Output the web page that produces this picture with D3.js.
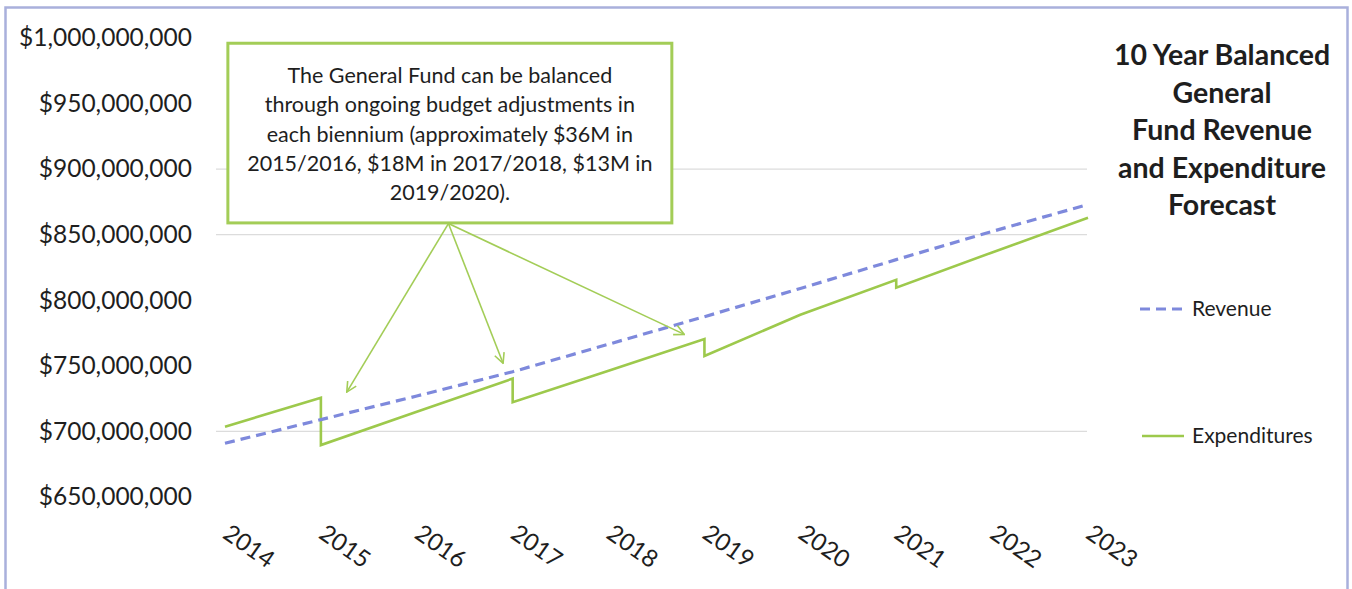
<!DOCTYPE html>
<html>
<head>
<meta charset="utf-8">
<script src="https://cdn.jsdelivr.net/npm/d3@7"></script>
<style>
  html, body { margin: 0; padding: 0; background: #fff; }
  svg { display: block; }
  text { font-family: Lato, "Open Sans", "DejaVu Sans", sans-serif; fill: #1e1e1e; }
</style>
</head>
<body>
<svg id="chart" width="1352" height="589"></svg>
<script>
// ---- data (values in $ millions) ----
const years = [2014, 2015, 2016, 2017, 2018, 2019, 2020, 2021, 2022, 2023];
const revenue = [691, 709, 727, 745.5, 766.5, 787.5, 809, 831, 852.5, 873];
// expenditures after each biennial budget adjustment
const expenditures = [703.6, 689.6, 715, 722.3, 746.3, 757.5, 789, 809.6, 836.5, 863];
const adjustmentYears = [2015, 2017, 2019, 2021];
const adjustments = [36, 18, 13, 6];
const yTicks = [650, 700, 750, 800, 850, 900, 950, 1000];
const gridValues = [700, 850, 900];
const seriesNames = ["Revenue", "Expenditures"];
const titleLines = ["10 Year Balanced", "General", "Fund Revenue", "and Expenditure", "Forecast"];
const noteLines = [
  "The General Fund can be balanced",
  "through ongoing budget adjustments in",
  "each biennium (approximately $36M in",
  "2015/2016, $18M in 2017/2018, $13M in",
  "2019/2020)."
];
// note box corners and arrow origin/targets, in (year, $M)
const noteBox = [[2014.03, 996], [2018.66, 859]];
const arrowFrom = [2016.33, 858.5];
const arrowTargets = [[2015.27, 730], [2016.9, 752], [2018.79, 774]];

// ---- styling ----
const revColor = "#7e89dc";
const expColor = "#9dc94c";
const noteColor = "#a3cd57";

const svg = d3.select("#chart");

// outer frame
svg.append("rect")
  .attr("x", 5.5).attr("y", 7.5).attr("width", 1342).attr("height", 620)
  .attr("fill", "#fff").attr("stroke", "#a9b0dc").attr("stroke-width", 2.5);

const x = d3.scaleLinear().domain([2014, 2023]).range([225, 1088]);
const y = d3.scaleLinear().domain([650, 1000]).range([497, 38]);

// gridlines
svg.append("g").selectAll("line").data(gridValues).join("line")
  .attr("x1", 216).attr("x2", 1087)
  .attr("y1", d => y(d)).attr("y2", d => y(d))
  .attr("stroke", "#dcdcdc").attr("stroke-width", 1.2);

// y axis (labels only)
const yAxis = d3.axisLeft(y).tickValues(yTicks).tickSize(0).tickPadding(0)
  .tickFormat(d => d3.format("$,")(d * 1e6));
const gy = svg.append("g").attr("transform", "translate(192,0)").call(yAxis);
gy.select(".domain").remove();
gy.selectAll("text")
  .attr("font-size", 24.5).attr("fill", "#1e1e1e")
  .style("font-family", "Lato, 'Open Sans', sans-serif");

// x axis labels (rotated)
const xAxis = d3.axisBottom(x).tickValues(years).tickSize(0).tickFormat(d3.format("d"));
const gx = svg.append("g").call(xAxis);
gx.select(".domain").remove();
gx.selectAll(".tick text")
  .attr("y", 0).attr("dy", 0)
  .attr("text-anchor", "start")
  .attr("transform", "translate(-4,537) rotate(35)")
  .attr("font-size", 24).attr("fill", "#1e1e1e")
  .style("font-family", "Lato, 'Open Sans', sans-serif");

// series
const line = d3.line().x(d => x(d[0])).y(d => y(d[1]));

const revPts = years.map((yr, i) => [yr, revenue[i]]);
const expPts = [];
years.forEach((yr, i) => {
  const k = adjustmentYears.indexOf(yr);
  if (k >= 0) expPts.push([yr, expenditures[i] + adjustments[k]]);
  expPts.push([yr, expenditures[i]]);
});

svg.append("path").datum(expPts)
  .attr("d", line).attr("fill", "none")
  .attr("stroke", expColor).attr("stroke-width", 2.6)
  .attr("stroke-linejoin", "miter");

svg.append("path").datum(revPts)
  .attr("d", line).attr("fill", "none")
  .attr("stroke", revColor).attr("stroke-width", 3.2)
  .attr("stroke-dasharray", "10,6");

// note box
const bx0 = x(noteBox[0][0]), by0 = y(noteBox[0][1]);
const bx1 = x(noteBox[1][0]), by1 = y(noteBox[1][1]);
svg.append("rect")
  .attr("x", bx0).attr("y", by0).attr("width", bx1 - bx0).attr("height", by1 - by0)
  .attr("fill", "#fff").attr("stroke", noteColor).attr("stroke-width", 3);

svg.append("g").selectAll("text").data(noteLines).join("text")
  .attr("x", (bx0 + bx1) / 2)
  .attr("y", (d, i) => by0 + 40 + i * 29.2)
  .attr("text-anchor", "middle")
  .attr("font-size", 21.5)
  .text(d => d);

// arrows
const defs = svg.append("defs");
defs.append("marker")
  .attr("id", "arrowHead").attr("viewBox", "0 0 12 12")
  .attr("refX", 11).attr("refY", 6)
  .attr("markerWidth", 12).attr("markerHeight", 12)
  .attr("markerUnits", "userSpaceOnUse")
  .attr("orient", "auto")
  .append("path").attr("d", "M1,1 L11,6 L1,11")
  .attr("fill", "none").attr("stroke", noteColor).attr("stroke-width", 1.6);

svg.append("g").selectAll("line").data(arrowTargets).join("line")
  .attr("x1", x(arrowFrom[0])).attr("y1", y(arrowFrom[1]))
  .attr("x2", d => x(d[0])).attr("y2", d => y(d[1]))
  .attr("stroke", noteColor).attr("stroke-width", 1.6)
  .attr("marker-end", "url(#arrowHead)");

// title
svg.append("g").selectAll("text").data(titleLines).join("text")
  .attr("x", 1222)
  .attr("y", (d, i) => 65 + i * 37.5)
  .attr("text-anchor", "middle")
  .attr("font-size", 28.5).attr("font-weight", 700)
  .text(d => d);

// legend
const legendRows = [
  { name: seriesNames[0], color: revColor, dash: "10,6", width: 3.2, cy: 309, x1: 1140 },
  { name: seriesNames[1], color: expColor, dash: null, width: 2.6, cy: 436, x1: 1142 }
];
const lg = svg.append("g").selectAll("g").data(legendRows).join("g");
lg.append("line")
  .attr("x1", d => d.x1).attr("x2", 1184)
  .attr("y1", d => d.cy).attr("y2", d => d.cy)
  .attr("stroke", d => d.color).attr("stroke-width", d => d.width)
  .attr("stroke-dasharray", d => d.dash);
lg.append("text")
  .attr("x", 1192).attr("y", d => d.cy + 7)
  .attr("font-size", 21)
  .text(d => d.name);
</script>
</body>
</html>
